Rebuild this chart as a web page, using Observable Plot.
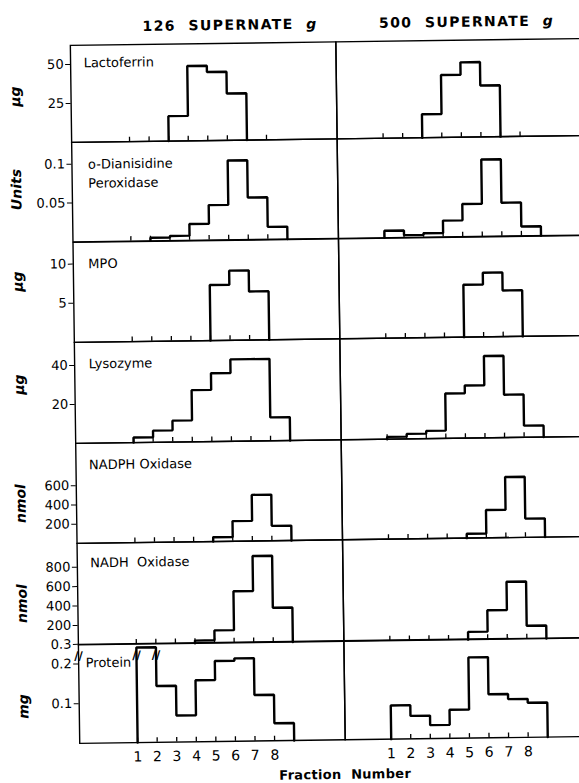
<!DOCTYPE html>
<html>
<head>
<meta charset="utf-8">
<script src="https://cdn.jsdelivr.net/npm/d3@7"></script>
<script src="https://cdn.jsdelivr.net/npm/@observablehq/plot@0.6"></script>
<style>
  html, body { margin: 0; padding: 0; background: #fff; }
  #fig { position: relative; width: 579px; height: 783px; overflow: hidden; background: #fff; }
  #rot { position: absolute; left: 0; top: 0; width: 579px; height: 783px;
         transform: rotate(-0.77deg); transform-origin: 290px 390px; }
  .pnl { position: absolute; display: block; }
  .txt { position: absolute; font-family: "DejaVu Sans", sans-serif; color: #000; white-space: pre; line-height: 1; }
  .coltitle { font-size: 14px; font-weight: bold; letter-spacing: 1.4px; transform: translate(-50%, -50%); }
  .unit { font-size: 14px; font-weight: bold; font-style: italic; transform: translate(-50%, -50%) rotate(-90deg); }
  .assay { font-size: 13px; transform: translateY(-50%); line-height: 19px; }
  .xtitle { font-size: 13px; font-weight: bold; transform: translate(-50%, -50%); letter-spacing: 0.3px; }
  g[aria-label^="x-axis"] text { font-size: 14px; }
</style>
</head>
<body>
<div id="fig"><div id="rot"></div></div>
<script>
// ---------------- data ----------------
const fractions = [1, 2, 3, 4, 5, 6, 7, 8];
const columnTitles = ["126  SUPERNATE", "500  SUPERNATE"];
const columnUnit = "g";
const assays = ["Lactoferrin", "o-Dianisidine\nPeroxidase", "MPO", "Lysozyme", "NADPH Oxidase", "NADH  Oxidase", "Protein"];
const unitLabels = ["μg", "Units", "μg", "μg", "nmol", "nmol", "mg"];
const xTitle = "Fraction  Number";

const yTicks = [[25, 50], [0.05, 0.1], [5, 10], [20, 40], [200, 400, 600], [200, 400, 600, 800], [0.1, 0.2, 0.3]];
const yTickLabels = [["25", "50"], ["0.05", "0.1"], ["5", "10"], ["20", "40"], ["200", "400", "600"], ["200", "400", "600", "800"], ["0.1", "0.2", "0.3"]];

const lactoferrin126 = [0, 0, 16, 48, 44, 30, 0, 0];
const lactoferrin500 = [0, 0, 15, 40, 48, 33, 0, 0];
const dianisidine126 = [0, 0.004, 0.006, 0.021, 0.045, 0.102, 0.054, 0.016];
const dianisidine500 = [0.009, 0.003, 0.005, 0.021, 0.042, 0.099, 0.043, 0.012];
const mpo126 = [0, 0, 0, 0, 7.1, 8.9, 6.2, 0];
const mpo500 = [0, 0, 0, 0, 6.7, 8.2, 5.9, 0];
const lysozyme126 = [2.6, 6, 11, 26.5, 35, 42, 42, 12];
const lysozyme500 = [1.2, 2.6, 4, 23, 27, 42, 22, 6];
const nadph126 = [0, 0, 0, 0, 45, 210, 480, 155];
const nadph500 = [0, 0, 0, 0, 45, 290, 630, 195];
const nadh126 = [0, 0, 0, 28, 130, 530, 890, 355];
const nadh500 = [0, 0, 0, 0, 80, 300, 590, 135];
const protein126 = [0.28, 0.142, 0.067, 0.155, 0.206, 0.218, 0.116, 0.044];
const protein500 = [0.085, 0.058, 0.034, 0.072, 0.207, 0.11, 0.097, 0.087];
const proteinBreakValue = 0.24;   // where the broken protein axis is marked

const series = [
  [lactoferrin126, lactoferrin500],
  [dianisidine126, dianisidine500],
  [mpo126, mpo500],
  [lysozyme126, lysozyme500],
  [nadph126, nadph500],
  [nadh126, nadh500],
  [protein126, protein500]
];

// ---------------- layout ----------------
const frameTop = 42;
const rowBottoms = [139, 238.5, 338.5, 439.5, 539.5, 641, 740];
const proteinUpperRatio = 0.494;  // the protein axis is compressed above its break at 0.2
const brokenAxis = v => v <= 0.2 ? v : 0.2 + (v - 0.2) * proteinUpperRatio;
const yMax = [62.2, 0.128, 12.77, 51.8, 1040, 1045, brokenAxis(0.3)];
const columns = [
  {left: 0, width: 340, marginLeft: 74.5, xDomain: [-1.959, 11.608]},
  {left: 340, width: 245, marginLeft: 0, xDomain: [-1.3505, 11.169]}
];
const unitCenters = [93.4, 186.4, 278.1, 381.4, 499.5, 599.5, 703.2];
const assayPos = [[88, 60], [91, 171.2], [90, 260.7], [89, 360.7], [88, 462.4], [88, 560.1], [82, 659.6]];
const titleCenters = [[235, 23.5], [471.5, 23.5]];
const ink = "#000";

const rot = document.getElementById("rot");

function stepPoints(values, f) {
  const i0 = values.findIndex(v => v > 0);
  const i1 = values.length - 1 - [...values].reverse().findIndex(v => v > 0);
  const pts = [{x: fractions[i0], y: 0}];
  for (let i = i0; i <= i1; i++) pts.push({x: fractions[i], y: f(values[i])});
  pts.push({x: fractions[i1] + 1, y: 0});
  return pts;
}

function makePanel(r, c) {
  const col = columns[c];
  const top = r === 0 ? frameTop : rowBottoms[r - 1];
  const bottom = rowBottoms[r];
  const isLast = r === rowBottoms.length - 1;
  const mt = 14, mb = isLast ? 34 : 8;
  const innerH = bottom - top;
  const H = innerH + mt + mb;
  const values = series[r][c];
  const f = isLast ? brokenAxis : (v => v);
  const ticks = yTicks[r].map(f);
  const marks = [
    Plot.frame({stroke: ink, strokeWidth: 1.4}),
    Plot.tickX(fractions, {x: d => d, insetTop: innerH - 4.5, stroke: ink, strokeWidth: 1.3}),
    Plot.line(stepPoints(values, f), {x: "x", y: "y", curve: "step-after", stroke: ink, strokeWidth: 2.4, strokeLinejoin: "miter"})
  ];
  if (isLast) {
    const bi = values.findIndex(v => v > proteinBreakValue);
    if (bi >= 0) {
      marks.push(Plot.text([fractions[bi], fractions[bi] + 1], {x: d => d, y: () => f(proteinBreakValue), text: () => "//", fontSize: 12, fontWeight: "bold", textAnchor: "middle", fill: ink}));
    }
    if (c === 0) {
      marks.push(Plot.text([proteinBreakValue], {y: d => f(d), frameAnchor: "left", text: () => "//", fontSize: 12, fontWeight: "bold", textAnchor: "middle", fill: ink}));
    }
  }
  const svg = Plot.plot({
    width: col.width,
    height: H,
    marginLeft: col.marginLeft,
    marginRight: 0,
    marginTop: mt,
    marginBottom: mb,
    x: {
      domain: col.xDomain,
      axis: isLast ? "bottom" : null,
      ticks: fractions,
      tickSize: 0,
      tickPadding: 9,
      tickFormat: d => String(d),
      label: null
    },
    y: {
      domain: [0, yMax[r]],
      axis: c === 0 ? "left" : null,
      ticks: ticks,
      tickFormat: d => yTickLabels[r][ticks.indexOf(d)],
      tickSize: 5,
      tickPadding: 2,
      label: null
    },
    style: {
      fontFamily: "DejaVu Sans, sans-serif",
      fontSize: "13px",
      color: ink,
      background: "none",
      overflow: "visible"
    },
    marks
  });
  svg.classList.add("pnl");
  svg.style.left = col.left + "px";
  svg.style.top = (top - mt) + "px";
  rot.appendChild(svg);
}

for (let r = 0; r < series.length; r++) {
  for (let c = 0; c < 2; c++) makePanel(r, c);
}

function addText(cls, html, x, y) {
  const d = document.createElement("div");
  d.className = "txt " + cls;
  d.innerHTML = html;
  d.style.left = x + "px";
  d.style.top = y + "px";
  rot.appendChild(d);
  return d;
}

columnTitles.forEach((t, i) => addText("coltitle", t + "  <i>" + columnUnit + "</i>", titleCenters[i][0], titleCenters[i][1]));
unitLabels.forEach((u, i) => addText("unit", u, 19, unitCenters[i]));
assays.forEach((a, i) => addText("assay", a.replace("\n", "<br>"), assayPos[i][0], assayPos[i][1]));
addText("xtitle", xTitle, 340, 775.2);
</script>
</body>
</html>
